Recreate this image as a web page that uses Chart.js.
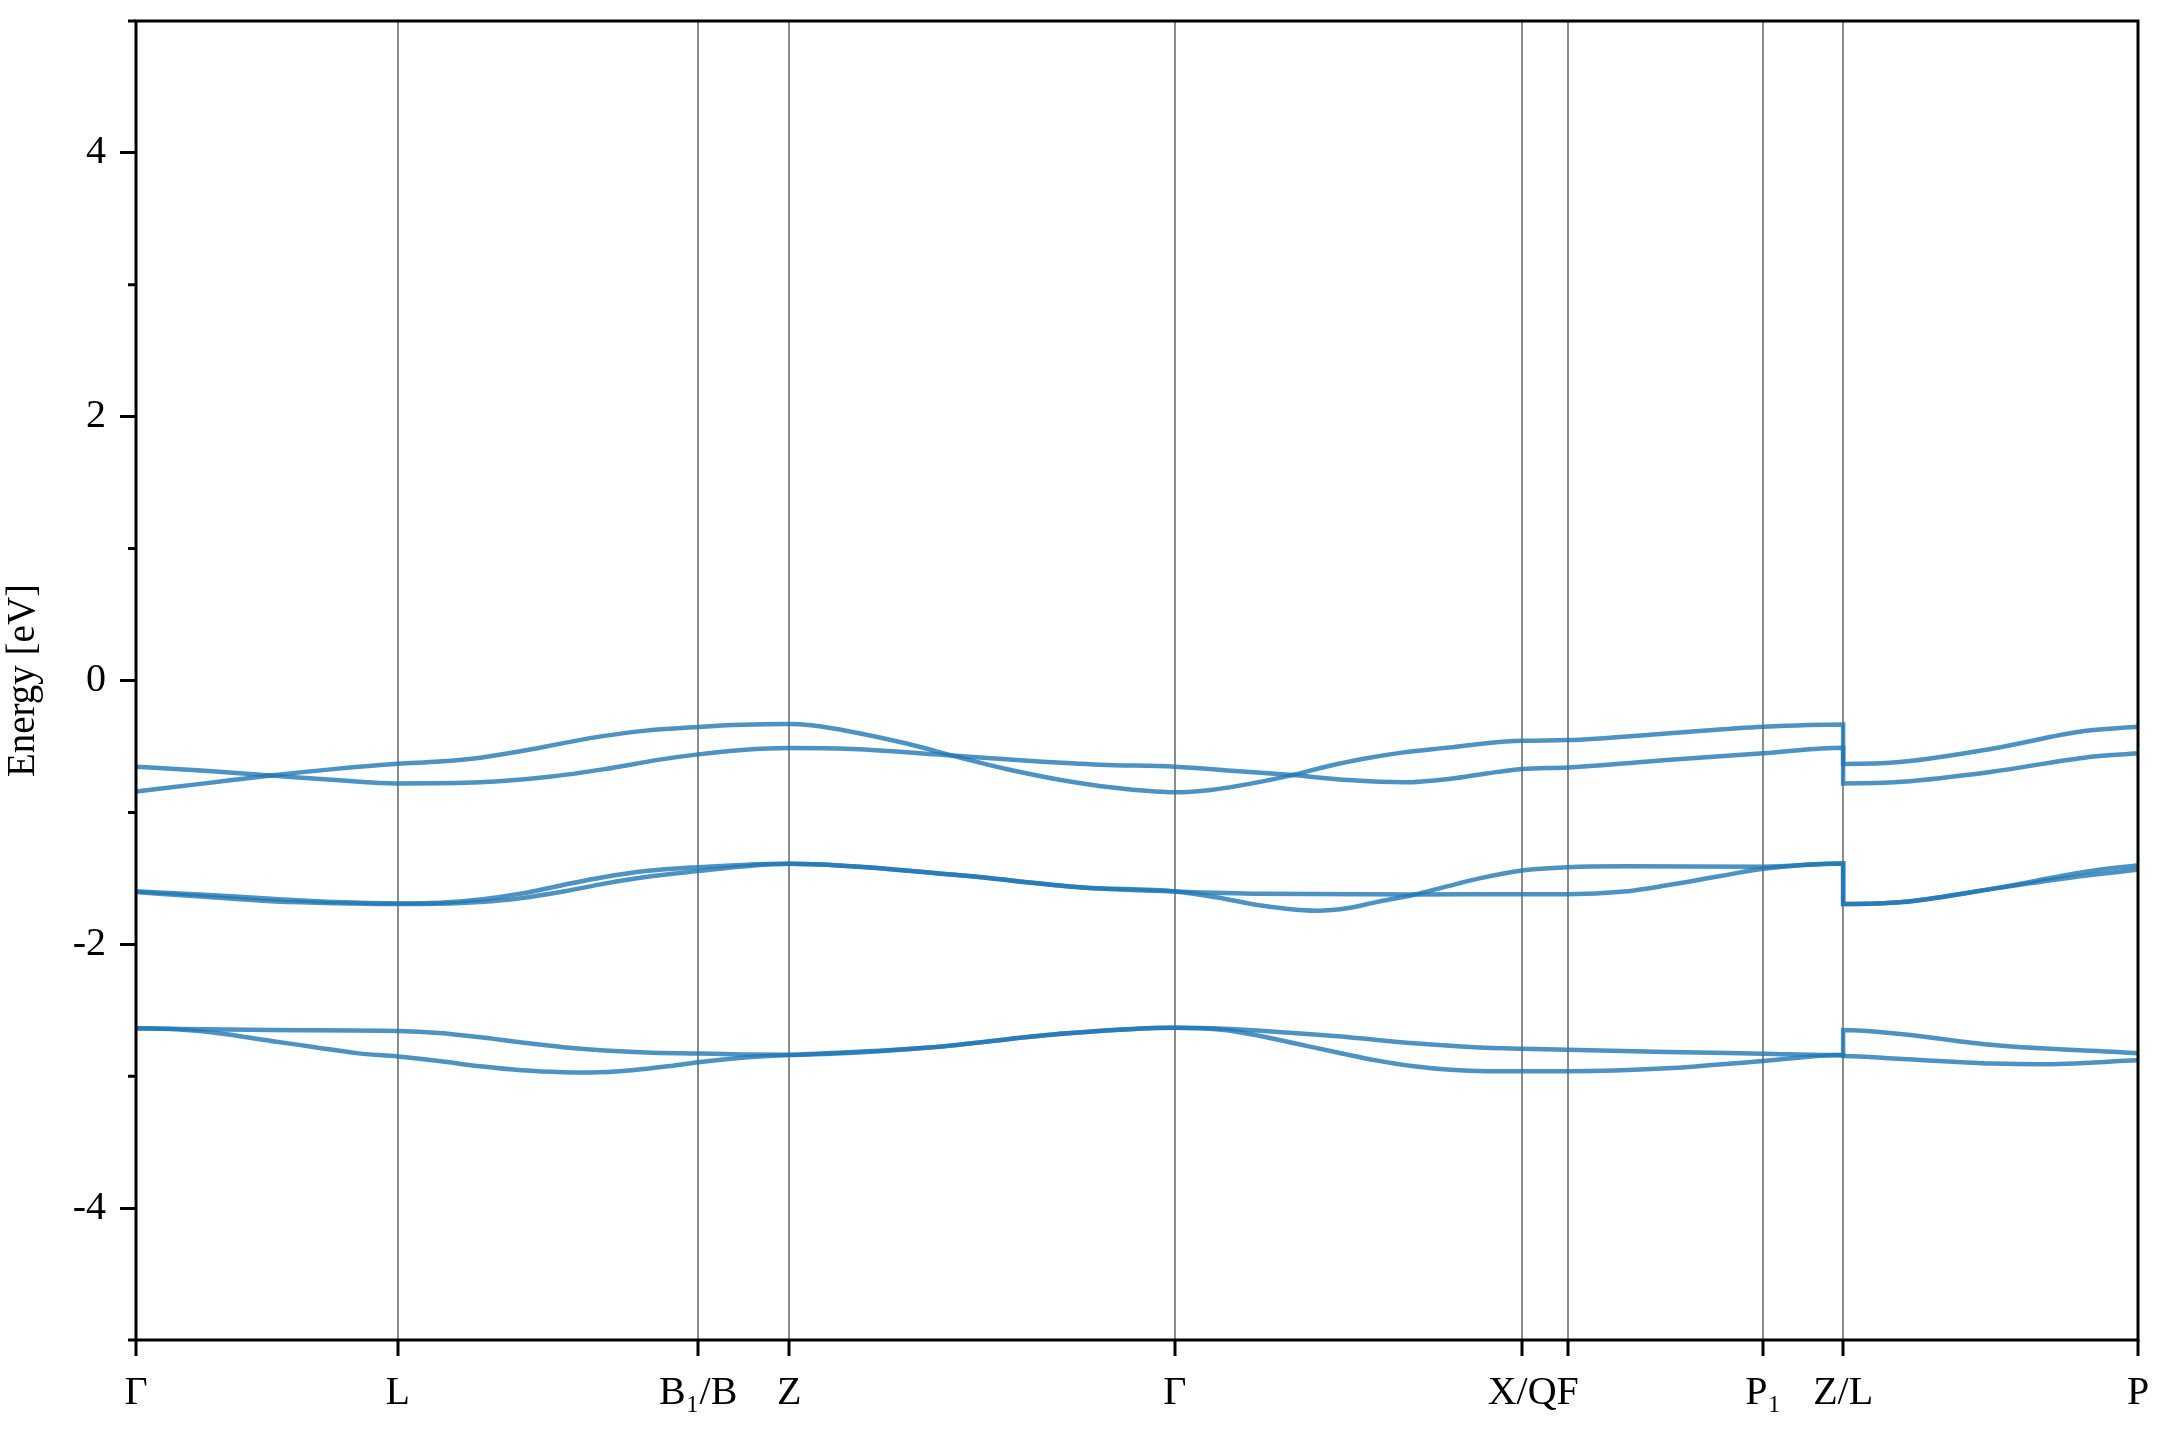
<!DOCTYPE html>
<html>
<head>
<meta charset="utf-8">
<title>Structure de bandes</title>
<script src="https://cdn.jsdelivr.net/npm/chart.js@4.4.1/dist/chart.umd.min.js"></script>
<style>
  body { margin: 0; background: #fff; }
  canvas { display: block; }
</style>
</head>
<body>
<canvas id="bandes" width="2160" height="1440"></canvas>
<script>
// points de haute symétrie (distance le long du chemin) et leurs noms
const kpos = [0, 0.190, 0.408, 0.474, 0.754, 1.006, 1.039, 1.181, 1.239, 1.453];
const klabels = ['Γ', 'L', 'B₁/B', 'Z', 'Γ', 'X/Q', 'F', 'P₁', 'Z/L', 'P'];

// graduations de l'axe des énergies
const yTicks = [-4, -2, 0, 2, 4];

// bandes : [k, énergie en eV]
// (deux points au même k sur Z/L = saut de la bande)
const bandeHaut1 = [
    [0, -0.653], [0.05, -0.685], [0.098, -0.72], [0.145, -0.755], [0.19, -0.78],
    [0.25, -0.772], [0.30, -0.73], [0.34, -0.672], [0.38, -0.60], [0.408, -0.56],
    [0.44, -0.527], [0.474, -0.512],
    [0.52, -0.52], [0.587, -0.565], [0.65, -0.61], [0.70, -0.638], [0.754, -0.653],
    [0.798, -0.686], [0.839, -0.717], [0.88, -0.755], [0.92, -0.772], [0.954, -0.745],
    [0.98, -0.705], [1.006, -0.671], [1.039, -0.659], [1.111, -0.603], [1.181, -0.552],
    [1.239, -0.51],
    [1.239, -0.78], [1.282, -0.767], [1.348, -0.69], [1.414, -0.585], [1.453, -0.552]
];
const bandeHaut2 = [
    [0, -0.842], [0.05, -0.78], [0.098, -0.72], [0.145, -0.67], [0.19, -0.632],
    [0.22, -0.615], [0.25, -0.585], [0.28, -0.535], [0.31, -0.475], [0.34, -0.42],
    [0.37, -0.38], [0.408, -0.352], [0.44, -0.336], [0.474, -0.33],
    [0.49, -0.34], [0.52, -0.39], [0.56, -0.48], [0.60, -0.59], [0.64, -0.69],
    [0.68, -0.77], [0.72, -0.825], [0.754, -0.848],
    [0.78, -0.83], [0.81, -0.78], [0.839, -0.717], [0.865, -0.65], [0.89, -0.595],
    [0.92, -0.545], [0.954, -0.507], [0.98, -0.475], [1.006, -0.457],
    [1.039, -0.452], [1.111, -0.401], [1.181, -0.351], [1.239, -0.333],
    [1.239, -0.633], [1.282, -0.616], [1.348, -0.515], [1.414, -0.383], [1.453, -0.351]
];
const bandeMilieu1 = [
    [0, -1.604], [0.05, -1.64], [0.098, -1.674], [0.145, -1.688], [0.19, -1.695],
    [0.22, -1.693], [0.25, -1.68], [0.28, -1.65], [0.31, -1.60], [0.34, -1.54],
    [0.37, -1.49], [0.408, -1.445], [0.44, -1.41], [0.474, -1.39],
    [0.594, -1.473], [0.687, -1.569], [0.754, -1.599],
    [0.816, -1.617], [0.9275, -1.622], [1.006, -1.62], [1.039, -1.62], [1.08, -1.6],
    [1.111, -1.553], [1.151, -1.48], [1.181, -1.427], [1.239, -1.387],
    [1.239, -1.695], [1.282, -1.68], [1.348, -1.578], [1.414, -1.48], [1.453, -1.435]
];
const bandeMilieu2 = [
    [0, -1.598], [0.05, -1.625], [0.098, -1.654], [0.145, -1.68], [0.19, -1.69],
    [0.22, -1.685], [0.25, -1.66], [0.28, -1.615], [0.31, -1.55], [0.34, -1.49],
    [0.37, -1.445], [0.408, -1.415], [0.44, -1.398], [0.474, -1.39],
    [0.594, -1.473], [0.687, -1.569], [0.754, -1.599],
    [0.785, -1.645], [0.816, -1.705], [0.857, -1.745], [0.88, -1.725], [0.90, -1.68],
    [0.9275, -1.624], [0.95, -1.565], [0.975, -1.50], [1.006, -1.44], [1.039, -1.415],
    [1.08, -1.408], [1.181, -1.412], [1.239, -1.387],
    [1.239, -1.695], [1.282, -1.68], [1.348, -1.578], [1.414, -1.452], [1.453, -1.40]
];
const bandeBas1 = [
    [0, -2.637], [0.098, -2.65], [0.19, -2.657], [0.22, -2.672], [0.25, -2.705],
    [0.28, -2.745], [0.31, -2.78], [0.34, -2.805], [0.37, -2.82], [0.408, -2.828],
    [0.44, -2.835], [0.474, -2.838],
    [0.576, -2.783], [0.668, -2.682], [0.754, -2.632],
    [0.79, -2.64], [0.816, -2.655], [0.85, -2.68], [0.872, -2.697], [0.9275, -2.75],
    [0.954, -2.77], [0.98, -2.785], [1.006, -2.792], [1.039, -2.80], [1.111, -2.816],
    [1.181, -2.829], [1.239, -2.84],
    [1.239, -2.65], [1.282, -2.682], [1.348, -2.763], [1.453, -2.826]
];
const bandeBas2 = [
    [0, -2.637], [0.03, -2.645], [0.06, -2.675], [0.098, -2.733], [0.13, -2.78],
    [0.16, -2.825], [0.19, -2.85], [0.22, -2.885], [0.25, -2.925], [0.28, -2.955],
    [0.31, -2.97], [0.33, -2.972], [0.36, -2.955], [0.39, -2.92], [0.408, -2.895],
    [0.44, -2.86], [0.474, -2.84],
    [0.576, -2.783], [0.668, -2.682], [0.754, -2.632],
    [0.79, -2.65], [0.816, -2.695], [0.845, -2.76], [0.872, -2.82], [0.90, -2.88],
    [0.9275, -2.925], [0.954, -2.952], [0.98, -2.962], [1.006, -2.962], [1.039, -2.962],
    [1.111, -2.94], [1.181, -2.884], [1.239, -2.84],
    [1.239, -2.846], [1.282, -2.87], [1.348, -2.904], [1.381, -2.91], [1.453, -2.88]
];

const bandes = [bandeBas1, bandeBas2, bandeMilieu1, bandeMilieu2, bandeHaut1, bandeHaut2];

const police = "'Liberation Serif', 'Times New Roman', serif";

// cadre noir autour du graphique + petites graduations de l'axe y
const cadre = {
    id: 'cadre',
    afterDatasetsDraw(chart) {
        const { ctx, chartArea } = chart;
        const y = chart.scales.y;
        ctx.save();
        ctx.strokeStyle = '#000';
        ctx.lineWidth = 3;
        ctx.beginPath();
        for (let v = -5; v <= 5; v++) {
            if (v % 2 === 0) continue;
            const py = y.getPixelForValue(v);
            ctx.moveTo(chartArea.left - 8, py);
            ctx.lineTo(chartArea.left, py);
        }
        ctx.stroke();
        ctx.strokeRect(chartArea.left, chartArea.top,
            chartArea.right - chartArea.left, chartArea.bottom - chartArea.top);
        ctx.restore();
    }
};

const ctx = document.getElementById('bandes').getContext('2d');
new Chart(ctx, {
    type: 'line',
    data: {
        datasets: bandes.map(b => ({
            data: b.map(p => ({ x: p[0], y: p[1] })),
            borderColor: 'rgba(31,119,180,0.8)',
            borderWidth: 4.5,
            pointRadius: 0,
            fill: false,
            cubicInterpolationMode: 'monotone'
        }))
    },
    options: {
        responsive: false,
        devicePixelRatio: 1,
        animation: false,
        layout: { padding: { top: 21, right: 22, left: 0, bottom: 0 } },
        plugins: {
            legend: { display: false },
            tooltip: { enabled: false }
        },
        scales: {
            x: {
                type: 'linear',
                min: kpos[0],
                max: kpos[kpos.length - 1],
                border: { display: false },
                afterBuildTicks: axis => {
                    axis.ticks = kpos.map(v => ({ value: v }));
                },
                afterFit: axis => {
                    axis.height = 100;
                    axis.paddingLeft = 0;
                    axis.paddingRight = 0;
                },
                grid: {
                    color: 'rgba(0,0,0,0.45)',
                    lineWidth: 2,
                    drawTicks: true,
                    tickLength: 16,
                    tickWidth: 3,
                    tickColor: '#000'
                },
                ticks: {
                    autoSkip: false,
                    maxRotation: 0,
                    padding: 13,
                    color: '#000',
                    font: { family: police, size: 40 },
                    callback: (value, index) => klabels[index]
                }
            },
            y: {
                min: -5,
                max: 5,
                border: { display: false },
                afterFit: axis => {
                    axis.width = 136;
                    axis.paddingTop = 0;
                    axis.paddingBottom = 0;
                },
                grid: {
                    drawOnChartArea: false,
                    drawTicks: true,
                    tickLength: 16,
                    tickWidth: 3,
                    tickColor: c => (c.tick && c.tick.value % 2 === 0 ? '#000' : 'rgba(0,0,0,0)')
                },
                ticks: {
                    stepSize: 1,
                    padding: 14,
                    color: '#000',
                    font: { family: police, size: 40 },
                    callback: v => (yTicks.includes(v) ? String(v) : '')
                },
                title: {
                    display: true,
                    text: 'Energy [eV]',
                    color: '#000',
                    padding: { top: 0, bottom: 0 },
                    font: { family: police, size: 39 }
                }
            }
        }
    },
    plugins: [cadre]
});
</script>
</body>
</html>
